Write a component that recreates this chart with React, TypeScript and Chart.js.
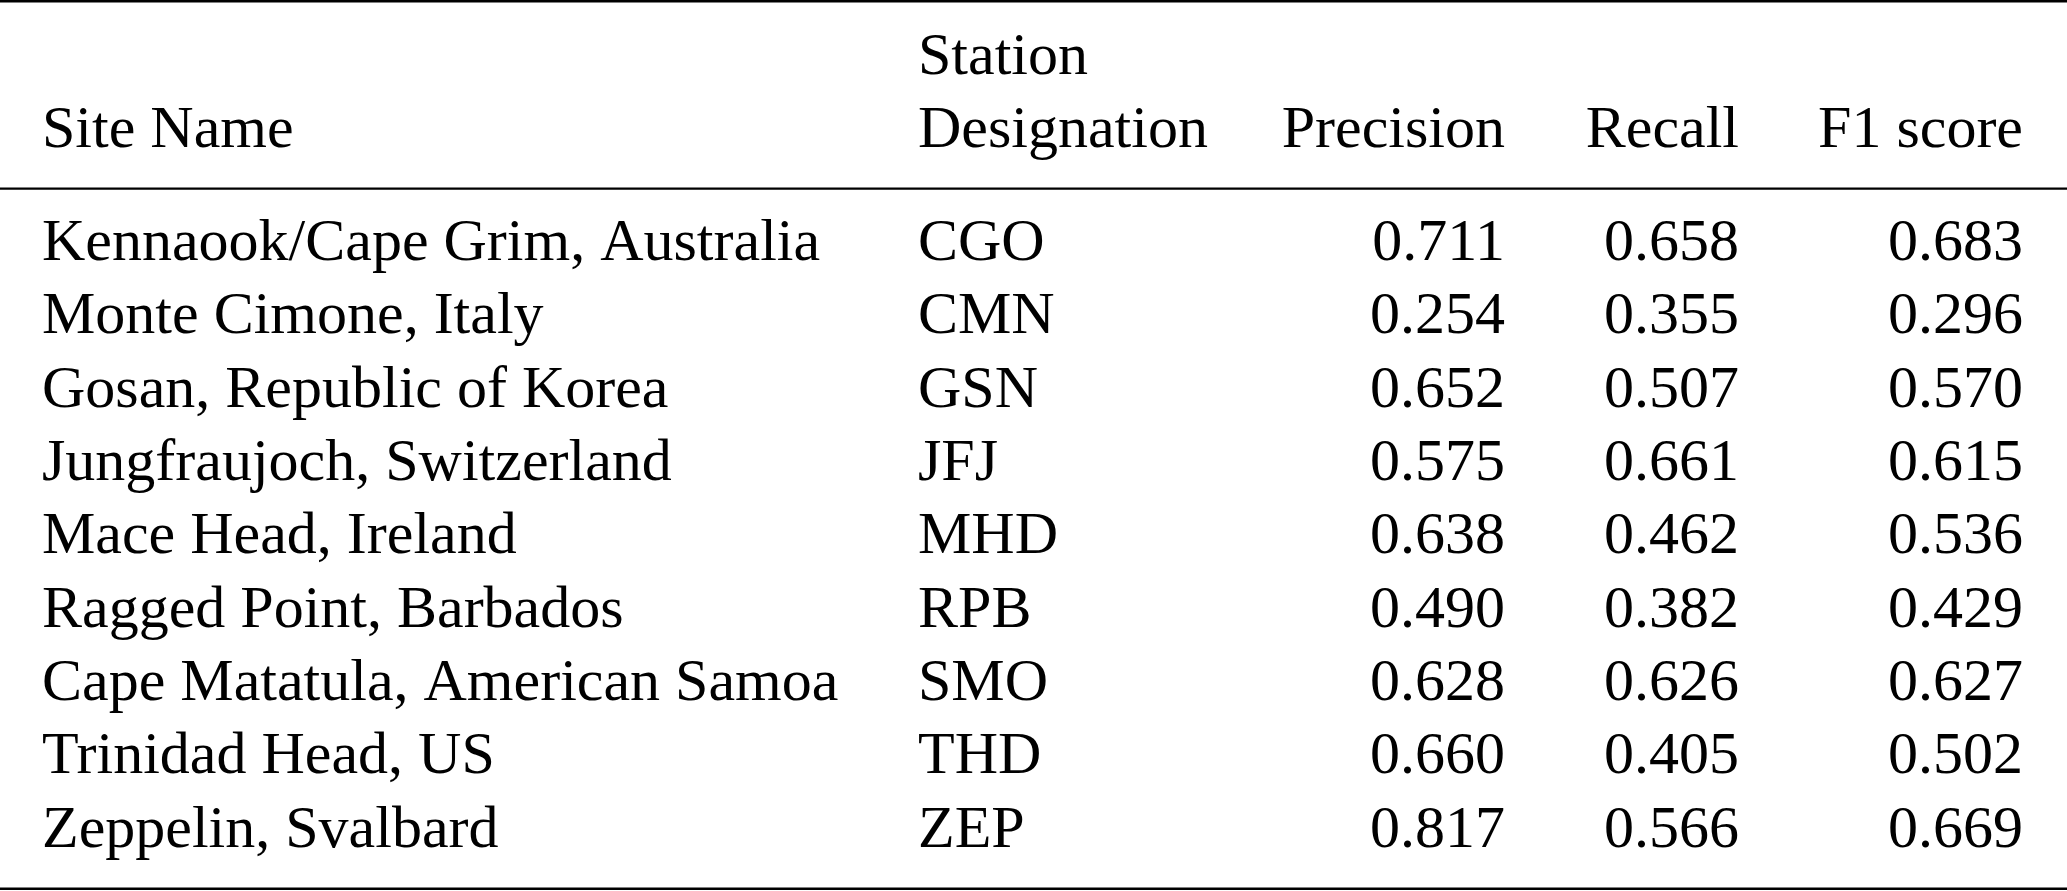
import React, { useEffect, useRef } from "react";
import { Chart, registerables } from "chart.js";

Chart.register(...registerables);

// ---- data ----
const HEADER_TOP = ["", "Station", "", "", ""];
const HEADER_MAIN = ["Site Name", "Designation", "Precision", "Recall", "F1 score"];
const SITE_NAMES = [
  "Kennaook/Cape Grim, Australia",
  "Monte Cimone, Italy",
  "Gosan, Republic of Korea",
  "Jungfraujoch, Switzerland",
  "Mace Head, Ireland",
  "Ragged Point, Barbados",
  "Cape Matatula, American Samoa",
  "Trinidad Head, US",
  "Zeppelin, Svalbard",
];
const STATIONS = ["CGO", "CMN", "GSN", "JFJ", "MHD", "RPB", "SMO", "THD", "ZEP"];
const PRECISION = [0.711, 0.254, 0.652, 0.575, 0.638, 0.49, 0.628, 0.66, 0.817];
const RECALL = [0.658, 0.355, 0.507, 0.661, 0.462, 0.382, 0.626, 0.405, 0.566];
const F1_SCORE = [0.683, 0.296, 0.57, 0.615, 0.536, 0.429, 0.627, 0.502, 0.669];

// ---- layout (not data) ----
const W = 2067;
const H = 891;
const COL_ANCHOR = [42, 918, 1505, 1739, 2023];
const COL_ALIGN: CanvasTextAlign[] = ["left", "left", "right", "right", "right"];
const ROW_MIN = -3.5455;
const ROW_MAX = 8.605;
const HEADER_TOP_ROW = -2.536;
const HEADER_MAIN_ROW = -1.545;
const RULES = [
  { row: -3.528, width: 2.6 },
  { row: -0.972, width: 2.2 },
  { row: 8.574, width: 2.6 },
];
const FONT = '60px "Liberation Serif", "Times New Roman", Times, serif';

const columns: string[][] = [
  SITE_NAMES,
  STATIONS,
  PRECISION.map((v) => v.toFixed(3)),
  RECALL.map((v) => v.toFixed(3)),
  F1_SCORE.map((v) => v.toFixed(3)),
];

const tablePlugin = {
  id: "tableText",
  afterDatasetsDraw(chart: any) {
    const ctx: CanvasRenderingContext2D = chart.ctx;
    const xs = chart.scales.x;
    const ys = chart.scales.y;
    const { left, right } = chart.chartArea;
    ctx.save();
    ctx.fillStyle = "#000";
    ctx.strokeStyle = "#000";
    ctx.font = FONT;
    ctx.textBaseline = "alphabetic";

    // rules
    RULES.forEach((r) => {
      const y = ys.getPixelForValue(r.row);
      ctx.lineWidth = r.width;
      ctx.beginPath();
      ctx.moveTo(left, y);
      ctx.lineTo(right, y);
      ctx.stroke();
    });

    // headers
    HEADER_MAIN.forEach((h, c) => {
      const x = xs.getPixelForValue(COL_ANCHOR[c]);
      ctx.textAlign = COL_ALIGN[c];
      if (HEADER_TOP[c]) ctx.fillText(HEADER_TOP[c], x, ys.getPixelForValue(HEADER_TOP_ROW));
      ctx.fillText(h, x, ys.getPixelForValue(HEADER_MAIN_ROW));
    });

    // body cells from dataset elements
    chart.data.datasets.forEach((ds: any, di: number) => {
      const meta = chart.getDatasetMeta(di);
      ctx.textAlign = COL_ALIGN[di];
      meta.data.forEach((el: any, j: number) => {
        ctx.fillText(ds.cellText[j], el.x, el.y);
      });
    });
    ctx.restore();
  },
};

export default function App() {
  const ref = useRef<HTMLCanvasElement | null>(null);
  useEffect(() => {
    document.body.style.margin = "0";
    const canvas = ref.current;
    if (!canvas) return;
    const chart = new Chart(canvas, {
      type: "scatter",
      data: {
        datasets: columns.map((col, c) => ({
          label: HEADER_MAIN[c],
          data: col.map((_, r) => ({ x: COL_ANCHOR[c], y: r })),
          cellText: col,
          pointRadius: 0,
          pointHoverRadius: 0,
          showLine: false,
        })) as any,
      },
      options: {
        animation: false,
        responsive: false,
        maintainAspectRatio: false,
        layout: { padding: 0 },
        events: [],
        plugins: {
          legend: { display: false },
          tooltip: { enabled: false },
          title: { display: false },
        },
        scales: {
          x: { type: "linear", min: 0, max: W, display: false },
          y: { type: "linear", min: ROW_MIN, max: ROW_MAX, reverse: true, display: false },
        },
      },
      plugins: [tablePlugin],
    });
    return () => chart.destroy();
  }, []);
  return (
    <div style={{ width: W, height: H, background: "#fff" }}>
      <canvas ref={ref} width={W} height={H} style={{ display: "block" }} />
    </div>
  );
}
